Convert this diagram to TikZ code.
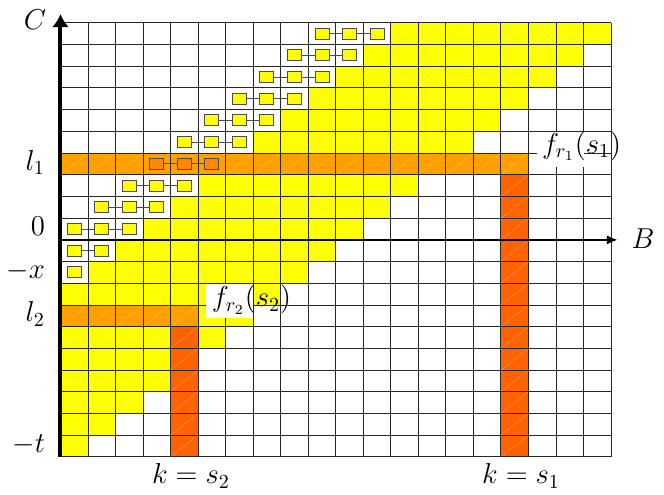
\documentclass[tikz,border=0pt]{standalone}
\usepackage{tikz}
\usetikzlibrary{arrows.meta}

\definecolor{bandyellow}{RGB}{255,255,0}
\definecolor{roworange}{RGB}{255,160,0}
\definecolor{colred}{RGB}{255,98,0}
\definecolor{sqorange}{RGB}{255,136,0}

\tikzset{
  gridline/.style={black!85, line width=0.5pt},
  seam/.style={white, opacity=0.25, line width=0.3pt},
  sqbox/.style={draw=black!70, line width=0.5pt, fill=bandyellow, minimum width=7pt, minimum height=5.5pt, inner sep=0pt},
  sqlink/.style={black!70, line width=0.5pt},
  axislabel/.style={font=\Large, inner sep=0pt},
}

\begin{document}
\begin{tikzpicture}[x=13.765pt, y=10.855pt]
    \useasboundingbox (-2.1976,-1.7503) rectangle (21.922,21.05);

    % Yellow staircase band
    \foreach \j in {0,...,19}{
        \pgfmathtruncatemacro{\first}{max(0,\j-7)}
        \fill[bandyellow] (\first,\j) rectangle (\j+1,\j+1);
    }

    % Rows l_1, l_2 and columns k = s_1, k = s_2
    \fill[roworange] (0,13) rectangle (17,14);
    \fill[roworange] (0,6) rectangle (5,7);
    \fill[colred] (16,0) rectangle (17,13);
    \fill[colred] (4,0) rectangle (5,6);

    % Light seams on the coloured cells
    \foreach \j in {0,...,19}
        \foreach \i in {0,...,19}{
            \pgfmathtruncatemacro{\iscol}{(\i>=\j-7 && \i<=\j) || (\j==13 && \i<=16) || (\j==6 && \i<=4) || (\i==16 && \j<=12) || (\i==4 && \j<=5)}
            \ifnum\iscol=1 \draw[seam] (\i,\j) -- ++(1,1); \fi
        }

    % Grid
    \draw[gridline, xstep=1, ystep=1] (0,0) grid (20,20);

    % Chains of small boxes
    \foreach \j in {8,...,19}{
        \pgfmathtruncatemacro{\first}{max(0,\j-10)}
        \pgfmathtruncatemacro{\last}{\j-8}
        \ifnum\j=13 \def\sqfill{sqorange}\else\def\sqfill{bandyellow}\fi
        \foreach \i in {\first,...,\last}
            \node[sqbox, fill=\sqfill] (q\i-\j) at (\i+0.5,\j+0.5) {};
        \ifnum\last>\first
            \pgfmathtruncatemacro{\prev}{\last-1}
            \foreach \i in {\first,...,\prev}{
                \pgfmathtruncatemacro{\nxt}{\i+1}
                \draw[sqlink] (q\i-\j) -- (q\nxt-\j);
            }
        \fi
    }

    % Labels f_r(s)
    \fill[white] (17.31,13.37) rectangle (19,14.98);
    \fill[white] (5.285,6.40) rectangle (7,7.96);
    \node[axislabel] (fr1) at (18.93,14.33) {$f_{r_1}(s_1)$};
    \node[axislabel] (fr2) at (6.94,7.25) {$f_{r_2}(s_2)$};

    % Axes
    \coordinate (O) at (0,0);
    \coordinate (Ctip) at (0,20.4);
    \coordinate (Bstart) at (0,10);
    \coordinate (Btip) at (20.25,10);
    \draw[line width=2pt, -{Latex[length=6.5pt,width=8.5pt]}] (O) -- (Ctip);
    \draw[line width=1.3pt, -{Latex[length=5.5pt,width=4.5pt]}] (Bstart) -- (Btip);
    \node[axislabel] (Clab) at (-0.93,20.13) {$C$};
    \node[axislabel] (Blab) at (21.16,10.05) {$B$};

    % Left labels
    \node[axislabel, anchor=east] (l1) at (-0.55,13.56) {$l_1$};
    \node[axislabel, anchor=east] (zero) at (-0.55,10.61) {$0$};
    \node[axislabel, anchor=east] (mx) at (-0.55,8.54) {$-x$};
    \node[axislabel, anchor=east] (l2) at (-0.55,6.59) {$l_2$};
    \node[axislabel, anchor=east] (mt) at (-0.55,0.58) {$-t$};

    % Bottom labels
    \node[axislabel] (ks2) at (4.74,-0.87) {$k = s_2$};
    \node[axislabel] (ks1) at (16.73,-0.87) {$k = s_1$};
\end{tikzpicture}
\end{document}
